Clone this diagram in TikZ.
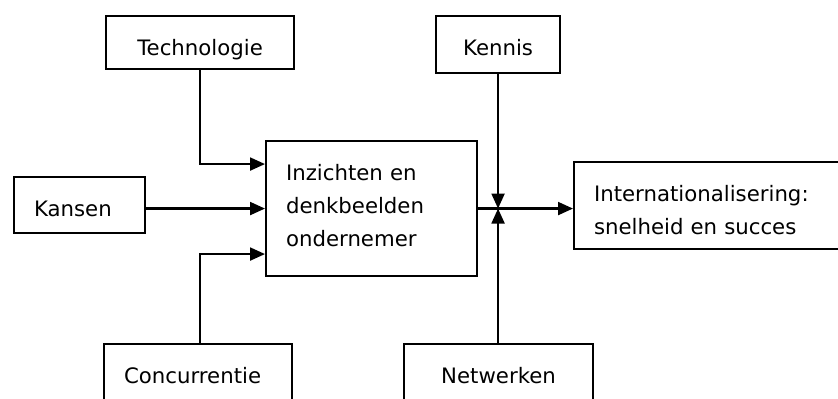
\documentclass[tikz,border=0pt]{standalone}
\usepackage{fontspec}
\setmainfont{DejaVu Sans}
\usetikzlibrary{arrows.meta,positioning}

\begin{document}
\begin{tikzpicture}[blok/.style={draw, line width=1.2pt, inner ysep=0pt, text height=0.78cm, font=\fontsize{12.1pt}{18.8pt}\selectfont}, links/.style={align=left, inner xsep=0.4cm}, pijl/.style={line width=1.2pt, -{Triangle[length=0.3cm,width=0.26cm]}}]
  \useasboundingbox (0,0) rectangle (16.76,7.96);
  \clip (0,0) rectangle (16.76,7.96);

  \node[blok, anchor=north west, minimum width=3.76cm, text depth=0.28cm] (tech) at (2.10,7.66) {Technologie};
  \node[blok, anchor=north west, minimum width=2.48cm, text depth=0.36cm] (kennis) at (8.70,7.66) {Kennis};
  \node[blok, links, anchor=north west, text width=1.82cm, text depth=0.34cm] (kansen) at (0.26,4.44) {Kansen};
  \node[blok, links, anchor=north west, text width=3.42cm, text depth=1.92cm] (main) at (5.30,5.16) {Inzichten en\\denkbeelden\\ondernemer};
  \node[blok, links, anchor=north west, text width=5.60cm, text depth=0.96cm] (inter) at (11.46,4.74) {Internationalisering:\\snelheid en succes};
  \node[blok, links, anchor=north west, text width=2.96cm, text depth=1.00cm] (conc) at (2.06,1.10) {Concurrentie};
  \node[blok, anchor=north west, minimum width=3.78cm, text depth=1.00cm] (netw) at (8.06,1.10) {Netwerken};

  % verbindingen
  \coordinate (knoop) at (kennis.south |- main.east);
  \draw[pijl] (tech.south) |- ([yshift=0.89cm]main.west);
  \draw[pijl] (kansen.east |- main.west) -- (main.west);
  \draw[pijl] (tech.south |- conc.north) |- ([yshift=-0.91cm]main.west);
  \draw[pijl] (main.east) -- (main.east -| inter.west);
  \draw[pijl] (kennis.south) -- (knoop);
  \draw[pijl] (kennis.south |- netw.north) -- (knoop);
\end{tikzpicture}
\end{document}
